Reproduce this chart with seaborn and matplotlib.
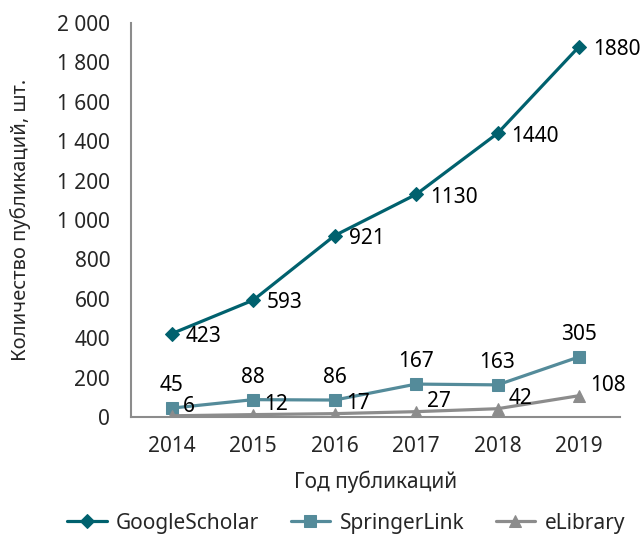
import pandas as pd
import matplotlib
matplotlib.use("Agg")
import matplotlib.pyplot as plt
from matplotlib.ticker import FuncFormatter, MultipleLocator, FixedLocator
import seaborn as sns

# data
years = ["2014", "2015", "2016", "2017", "2018", "2019"]
google_scholar = [423, 593, 921, 1130, 1440, 1880]
springer_link = [45, 88, 86, 167, 163, 305]
elibrary = [6, 12, 17, 27, 42, 108]
series_names = ["GoogleScholar", "SpringerLink", "eLibrary"]

df = pd.DataFrame({
    "year": years * 3,
    "value": google_scholar + springer_link + elibrary,
    "source": [n for n in series_names for _ in years],
})

colors = {"GoogleScholar": "#00616E", "SpringerLink": "#548B9A", "eLibrary": "#8C8C8C"}
markers = {"GoogleScholar": "D", "SpringerLink": "s", "eLibrary": "^"}
msizes = {"GoogleScholar": 7, "SpringerLink": 9, "eLibrary": 9}

sns.set_style("white")
plt.rcParams["font.family"] = ["Noto Sans", "DejaVu Sans"]
fs = 15

fig = plt.figure(figsize=(6.41, 5.35), dpi=100)
ax = fig.add_axes([0.2044, 0.2206, 0.7625, 0.7364])

for name in series_names:
    sub = df[df["source"] == name]
    sns.lineplot(data=sub, x="year", y="value", ax=ax, color=colors[name],
                 marker=markers[name], markersize=msizes[name], linewidth=2.3,
                 markeredgecolor=colors[name], label=name, sort=False)

# data labels
for x, v in zip(range(len(years)), google_scholar):
    ax.annotate(str(v), (x, v), xytext=(10, -2), textcoords="offset points",
                ha="left", va="center", fontsize=fs, color="black")
for x, v in zip(range(len(years)), springer_link):
    ax.annotate(str(v), (x, v), xytext=(0, 16), textcoords="offset points",
                ha="center", va="center", fontsize=fs, color="black")
for x, v in zip(range(len(years)), elibrary):
    ax.annotate(str(v), (x, v), xytext=(8, 7), textcoords="offset points",
                ha="left", va="center", fontsize=fs, color="black")

ax.set_xlim(-0.5, len(years) - 0.5)
ax.set_ylim(0, 2000)
ax.yaxis.set_major_locator(MultipleLocator(200))
ax.yaxis.set_major_formatter(FuncFormatter(lambda v, p: f"{int(v):,}".replace(",", " ")))

ax.xaxis.set_minor_locator(FixedLocator([i - 0.5 for i in range(len(years) + 1)]))
ax.tick_params(axis="x", which="major", length=0, pad=14, labelsize=fs)
ax.tick_params(axis="x", which="minor", length=4, width=1.2, color="#8C8C8C")
ax.tick_params(axis="y", which="major", length=4, width=1.2, color="#8C8C8C", pad=11, labelsize=fs)

for side in ["top", "right"]:
    ax.spines[side].set_visible(False)
for side in ["left", "bottom"]:
    ax.spines[side].set_color("#8C8C8C")
    ax.spines[side].set_linewidth(1.5)

ax.set_xlabel("Год публикаций", fontsize=fs)
ax.set_ylabel("Количество публикаций, шт.", fontsize=14.5)
ax.xaxis.set_label_coords(0.5, -0.135)
ax.yaxis.set_label_coords(-0.205, 0.5)

handles, labels = ax.get_legend_handles_labels()
ax.legend(handles, labels, loc="center", bbox_to_anchor=(0.54, 0.022),
          bbox_transform=fig.transFigure, ncol=3, frameon=False, fontsize=fs,
          handlelength=1.9, columnspacing=1.5, handletextpad=0.45)

fig.savefig("out.png", dpi=100)
